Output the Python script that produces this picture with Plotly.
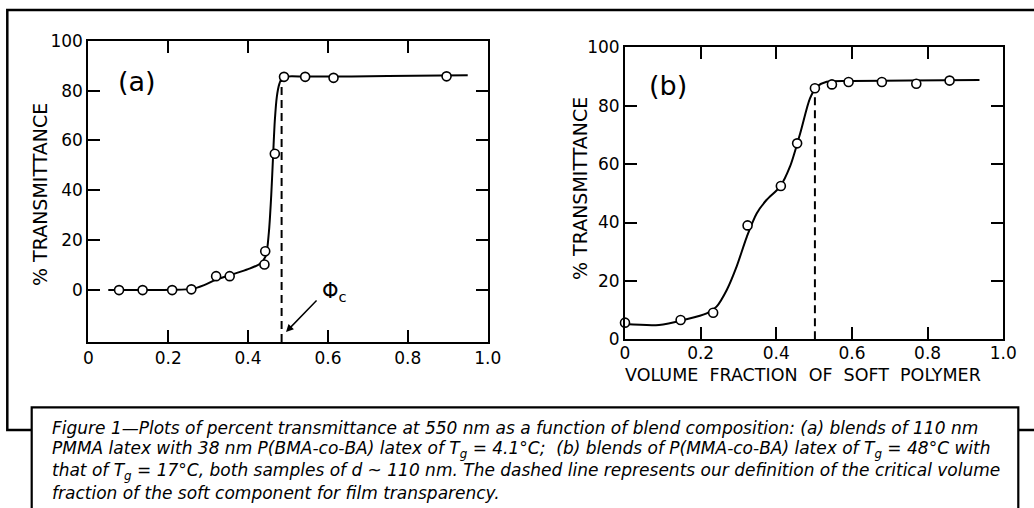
import plotly.graph_objects as go

# ---- Panel (a): 110 nm PMMA / 38 nm P(BMA-co-BA) blends ----
frac_a = [0.077, 0.136, 0.210, 0.258, 0.320, 0.354, 0.441, 0.443, 0.467, 0.490, 0.543, 0.614, 0.897]
trans_a = [0.0, 0.0, 0.0, 0.3, 5.6, 5.6, 10.3, 15.6, 54.7, 85.5, 85.5, 85.1, 85.7]
# smooth trend line drawn through the measurements
fit_x_a = [0.05, 0.14, 0.21, 0.26, 0.29, 0.32, 0.36, 0.40, 0.43, 0.444, 0.452, 0.458, 0.463,
           0.467, 0.472, 0.478, 0.485, 0.495, 0.55, 0.75, 0.95]
fit_y_a = [0.0, 0.0, 0.1, 0.5, 2.0, 4.2, 6.3, 8.4, 10.6, 13.5, 23.0, 38.0, 55.0,
           68.0, 77.5, 82.5, 85.0, 85.6, 85.6, 85.8, 86.1]
phi_c_a = 0.484

# ---- Panel (b): P(MMA-co-BA) Tg 48 C / Tg 17 C blends ----
frac_b = [0.0, 0.147, 0.233, 0.324, 0.412, 0.455, 0.502, 0.547, 0.591, 0.679, 0.770, 0.858]
trans_b = [5.7, 6.6, 9.1, 39.0, 52.5, 67.1, 86.0, 87.3, 88.1, 88.1, 87.5, 88.6]
fit_x_b = [0.0, 0.09, 0.16, 0.216, 0.242, 0.269, 0.295, 0.322, 0.348, 0.374, 0.41, 0.436,
           0.463, 0.489, 0.507, 0.533, 0.6, 0.75, 0.937]
fit_y_b = [5.2, 4.9, 6.8, 8.9, 11.2, 16.9, 24.9, 35.1, 43.1, 47.7, 52.3, 59.1,
           70.5, 82.5, 86.5, 88.2, 88.5, 88.6, 88.8]
phi_c_b = 0.502

x_ticks = [0, 0.2, 0.4, 0.6, 0.8, 1.0]
x_tick_text = ["0", "0.2", "0.4", "0.6", "0.8", "1.0"]
y_ticks = [0, 20, 40, 60, 80, 100]

W, H = 1034, 508
FONT = "DejaVu Sans"


def px(x):
    return x / W


def py(y):
    return 1 - y / H


fig = go.Figure()

panels = [
    ("x", "y", frac_a, trans_a, fit_x_a, fit_y_a, phi_c_a, -20.8),
    ("x2", "y2", frac_b, trans_b, fit_x_b, fit_y_b, phi_c_b, 0.0),
]
for xa, ya, fx, fy, cx, cy, phi, ymin in panels:
    fig.add_trace(go.Scatter(x=cx, y=cy, xaxis=xa, yaxis=ya, mode="lines",
                             line=dict(color="black", width=2, shape="spline", smoothing=0.8),
                             hoverinfo="skip", showlegend=False))
    top = cy[min(range(len(cx)), key=lambda i: abs(cx[i] - phi))]
    fig.add_trace(go.Scatter(x=[phi, phi], y=[ymin, top - 1], xaxis=xa, yaxis=ya, mode="lines",
                             line=dict(color="black", width=2, dash="8px,5px"),
                             hoverinfo="skip", showlegend=False))
    fig.add_trace(go.Scatter(x=fx, y=fy, xaxis=xa, yaxis=ya, mode="markers",
                             marker=dict(symbol="circle", size=9, color="white",
                                         line=dict(color="black", width=1.6)),
                             cliponaxis=False, showlegend=False))

axis_common = dict(showline=True, linecolor="black", linewidth=2, mirror="allticks",
                   ticks="inside", ticklen=12, tickwidth=2, tickcolor="black",
                   showgrid=False, zeroline=False, automargin=False,
                   tickfont=dict(family=FONT, size=17, color="black"))

fig.update_layout(
    width=W, height=H, autosize=False,
    margin=dict(l=0, r=0, t=0, b=0, pad=0),
    paper_bgcolor="white", plot_bgcolor="white",
    showlegend=False,
    xaxis=dict(domain=[px(88.3), px(487.7)], range=[0, 1], tickvals=x_ticks,
               ticktext=x_tick_text, anchor="y", **axis_common),
    yaxis=dict(domain=[py(342), py(40.7)], range=[-20.8, 100], tickvals=y_ticks,
               anchor="x", **axis_common),
    xaxis2=dict(domain=[px(625), px(1003.3)], range=[0, 1], tickvals=x_ticks,
                ticktext=x_tick_text, anchor="y2", ticklabelstandoff=-3, **axis_common),
    yaxis2=dict(domain=[py(339.3), py(47.3)], range=[0, 100], tickvals=y_ticks,
                anchor="x2", **axis_common),
)


def label(text, x, y, size, angle=0, xanchor="center"):
    return dict(text=text, x=px(x), y=py(y), xref="paper", yref="paper",
                xanchor=xanchor, yanchor="middle", textangle=angle, showarrow=False,
                font=dict(family=FONT, size=size, color="black"))


annotations = [
    label("(a)", 137, 82, 27),
    label("(b)", 668, 85, 27),
    label("% TRANSMITTANCE", 40, 195, 19, angle=-90),
    label("% TRANSMITTANCE", 580, 189, 19, angle=-90),
    label("VOLUME  FRACTION  OF  SOFT  POLYMER".replace(" ", "\u00a0"), 803, 375, 17.5),
    label("Φ<sub>c</sub>", 334, 292, 21),
    # critical volume fraction marker
    dict(text="", x=0.495, y=-16.8, xref="x", yref="y", ax=32, ay=-33,
         showarrow=True, arrowhead=2, arrowsize=1, arrowwidth=1.5, arrowcolor="black"),
]

caption_lines = [
    "Figure 1—Plots of percent transmittance at 550 nm as a function of blend composition: (a) blends of 110 nm",
    "PMMA latex with 38 nm P(BMA-co-BA) latex of T<sub>g</sub> = 4.1°C;  (b) blends of P(MMA-co-BA) latex of T<sub>g</sub> = 48°C with",
    "that of T<sub>g</sub> = 17°C, both samples of d ~ 110 nm. The dashed line represents our definition of the critical volume",
    "fraction of the soft component for film transparency.",
]
for i, line in enumerate(caption_lines):
    annotations.append(label("<i>" + line + "</i>", 49.5, 428 + 21.7 * i, 17, xanchor="left"))

fig.update_layout(annotations=annotations)

# outer frame (open on the right) and caption box (open at the bottom)
frame = "M 1,{t} L {l},{t} L {l},{b} L 1,{b}".format(l=px(7.3), t=py(10), b=py(430))
caption_box = "M {l},0 L {l},{t} L {r},{t} L {r},0".format(l=px(31.7), r=px(1018.3), t=py(407.3))
fig.add_shape(type="path", path=frame, xref="paper", yref="paper",
              line=dict(color="black", width=2.5), layer="below")
fig.add_shape(type="path", path=caption_box + " Z", xref="paper", yref="paper",
              line=dict(color="rgba(0,0,0,0)", width=0), fillcolor="white", layer="below")
fig.add_shape(type="path", path=caption_box, xref="paper", yref="paper",
              line=dict(color="black", width=2.2), layer="below")

fig.write_html("out.html")
